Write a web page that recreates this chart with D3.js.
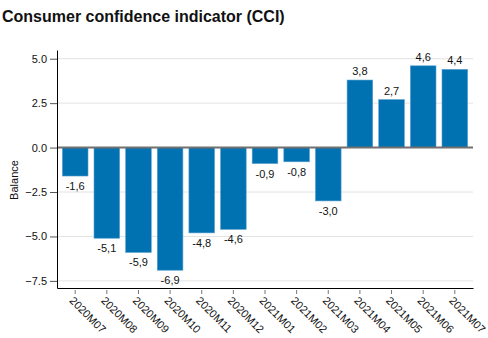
<!DOCTYPE html>
<html>
<head>
<meta charset="utf-8">
<script src="https://cdn.jsdelivr.net/npm/d3@7"></script>
<style>
  body { margin: 0; background: #fff; }
  svg { display: block; font-family: "Liberation Sans", Arial, sans-serif; }
</style>
</head>
<body>
<div id="chart"></div>
<script>
// monthly periods and balance values
const periods = ['2020M07', '2020M08', '2020M09', '2020M10', '2020M11', '2020M12',
  '2021M01', '2021M02', '2021M03', '2021M04', '2021M05', '2021M06', '2021M07'];
const balance = [-1.6, -5.1, -5.9, -6.9, -4.8, -4.6, -0.9, -0.8, -3.0, 3.8, 2.7, 4.6, 4.4];
const yTicks = [-7.5, -5.0, -2.5, 0.0, 2.5, 5.0];

const width = 488;
const height = 338;
const margin = {top: 50, right: 15, bottom: 50, left: 57};

const svg = d3.select('#chart')
  .append('svg')
  .attr('width', width)
  .attr('height', height);

svg.append('text')
  .attr('x', 2)
  .attr('y', 22)
  .attr('font-size', 16)
  .attr('font-weight', 'bold')
  .attr('fill', '#111')
  .text('Consumer confidence indicator (CCI)');

const x = d3.scaleBand()
  .domain(periods)
  .range([margin.left, width - margin.right])
  .paddingInner(0.19)
  .paddingOuter(0.17);

const y = d3.scaleLinear()
  .domain([-7.9, 5.49])
  .range([height - margin.bottom, margin.top]);

// grid lines
svg.append('g')
  .selectAll('line')
  .data(yTicks)
  .enter()
  .append('line')
  .attr('x1', margin.left)
  .attr('x2', width - margin.right)
  .attr('y1', d => y(d))
  .attr('y2', d => y(d))
  .attr('stroke', '#e3e3e3')
  .attr('stroke-width', 1);

// bars
svg.append('g')
  .selectAll('rect')
  .data(balance)
  .enter()
  .append('rect')
  .attr('x', (d, i) => x(periods[i]))
  .attr('y', d => y(Math.max(0, d)))
  .attr('width', x.bandwidth())
  .attr('height', d => Math.abs(y(d) - y(0)))
  .attr('fill', '#0071b1')
  .attr('stroke', '#5a9fce')
  .attr('stroke-width', 0.6);

// zero line
svg.append('line')
  .attr('x1', margin.left)
  .attr('x2', width - margin.right)
  .attr('y1', y(0))
  .attr('y2', y(0))
  .attr('stroke', '#707070')
  .attr('stroke-width', 2);

// value labels
svg.append('g')
  .selectAll('text')
  .data(balance)
  .enter()
  .append('text')
  .attr('x', (d, i) => x(periods[i]) + x.bandwidth() / 2)
  .attr('y', d => d >= 0 ? y(d) - 5 : y(d) + 14)
  .attr('text-anchor', 'middle')
  .attr('font-size', 11)
  .attr('fill', '#111')
  .text(d => d.toFixed(1).replace('.', ','));

// y axis
const yAxis = d3.axisLeft(y)
  .tickValues(yTicks)
  .tickFormat(d3.format('.1f'))
  .tickSize(7)
  .tickSizeOuter(0);

const gy = svg.append('g')
  .attr('transform', 'translate(' + margin.left + ',0)')
  .call(yAxis);
gy.select('.domain').attr('stroke', '#000');
gy.selectAll('.tick line').attr('stroke', '#555');
gy.selectAll('.tick text')
  .attr('font-family', '"Liberation Sans", Arial, sans-serif')
  .attr('font-size', 11)
  .attr('fill', '#111')
  .attr('x', -10);

// x axis
const xAxis = d3.axisBottom(x)
  .tickSize(5)
  .tickSizeOuter(0);

const gx = svg.append('g')
  .attr('transform', 'translate(0,' + (height - margin.bottom) + ')')
  .call(xAxis);
gx.select('.domain').attr('stroke', '#000');
gx.selectAll('.tick line')
  .attr('stroke', '#777')
  .attr('y1', 2)
  .attr('y2', 6);
gx.selectAll('.tick text')
  .attr('font-family', '"Liberation Sans", Arial, sans-serif')
  .attr('font-size', 11)
  .attr('fill', '#111')
  .attr('text-anchor', 'start')
  .attr('dy', '0.35em')
  .attr('transform', 'translate(2,5) rotate(45)');

svg.append('text')
  .attr('transform', 'translate(18,180) rotate(-90)')
  .attr('text-anchor', 'middle')
  .attr('font-size', 11)
  .attr('fill', '#111')
  .text('Balance');
</script>
</body>
</html>
